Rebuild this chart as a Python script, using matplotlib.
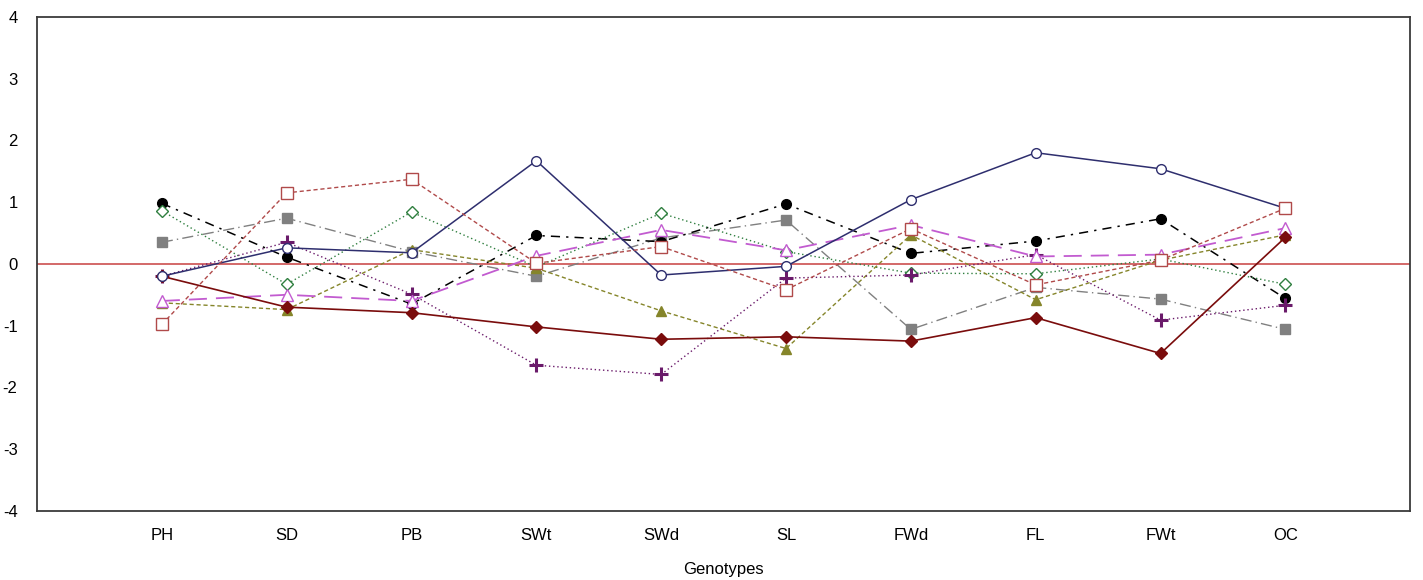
import matplotlib
matplotlib.use("Agg")
import matplotlib.pyplot as plt

plt.rcParams['font.family'] = ['Liberation Sans', 'DejaVu Sans']
plt.rcParams['axes.unicode_minus'] = False

traits = ["PH", "SD", "PB", "SWt", "SWd", "SL", "FWd", "FL", "FWt", "OC"]

g_navy = [-0.20, 0.26, 0.18, 1.67, -0.18, -0.04, 1.04, 1.80, 1.54, 0.90]
g_darkred = [-0.20, -0.70, -0.79, -1.02, -1.22, -1.18, -1.25, -0.87, -1.45, 0.43]
g_black = [0.98, 0.11, -0.65, 0.46, 0.36, 0.97, 0.17, 0.37, 0.73, -0.56]
g_gray = [0.35, 0.74, 0.20, -0.20, 0.42, 0.71, -1.06, -0.38, -0.57, -1.06]
g_pink = [-0.98, 1.15, 1.37, 0.01, 0.28, -0.42, 0.57, -0.34, 0.06, 0.90]
g_green = [0.86, -0.33, 0.84, -0.05, 0.82, 0.20, -0.15, -0.16, 0.08, -0.33]
g_olive = [-0.63, -0.74, 0.23, -0.07, -0.76, -1.37, 0.47, -0.58, 0.06, 0.47]
g_purple = [-0.20, 0.35, -0.49, -1.64, -1.79, -0.23, -0.18, 0.15, -0.91, -0.67]
g_violet = [-0.60, -0.50, -0.60, 0.13, 0.55, 0.22, 0.63, 0.12, 0.15, 0.58]

x = list(range(1, len(traits) + 1))

fig = plt.figure(figsize=(14.23, 5.8), dpi=100)
ax = fig.add_axes([0.026, 0.119, 0.965, 0.852])

ax.axhline(0, color="#c84040", lw=1.1, zorder=1)

ax.plot(x, g_gray, color="#808080", ls=(0, (8, 3, 1, 3)), lw=1.0,
        marker="s", ms=7, mfc="#808080", mec="#808080", zorder=3)
ax.plot(x, g_black, color="black", ls=(0, (6, 4, 1.5, 4)), lw=1.1,
        marker="o", ms=7, mfc="black", mec="black", zorder=3)
ax.plot(x, g_green, color="#2f7f3f", ls=(0, (1, 2)), lw=1.0,
        marker="D", ms=6, mfc="white", mec="#2f7f3f", zorder=3)
ax.plot(x, g_olive, color="#85852a", ls=(0, (3, 2)), lw=1.0,
        marker="^", ms=7, mfc="#85852a", mec="#85852a", zorder=3)
ax.plot(x, g_purple, color="#6a1a6a", ls=(0, (1, 2)), lw=1.0,
        marker="+", ms=10, mew=2.2, mec="#6a1a6a", zorder=4)
ax.plot(x, g_violet, color="#c25bd0", ls=(0, (10, 5)), lw=1.3,
        marker="^", ms=8, mfc="white", mec="#c25bd0", zorder=4)
ax.plot(x, g_darkred, color="#7a0c0c", ls="-", lw=1.2,
        marker="D", ms=6, mfc="#7a0c0c", mec="#7a0c0c", zorder=4)
ax.plot(x, g_navy, color="#2e2e6e", ls="-", lw=1.1,
        marker="o", ms=7, mfc="white", mec="#2e2e6e", zorder=4)
ax.plot(x, g_pink, color="#b04a4a", ls=(0, (3, 2)), lw=1.0,
        marker="s", ms=8, mfc="white", mec="#b04a4a", zorder=5)

ax.set_xlim(0, 11)
ax.set_ylim(-4, 4)
ax.set_xticks(x)
ax.set_xticklabels(traits)
ax.set_yticks(range(-4, 5))
ax.tick_params(axis="both", length=0, labelsize=12)
ax.tick_params(axis="y", pad=14)
ax.tick_params(axis="x", pad=12)
ax.set_xlabel("Genotypes", fontsize=12, labelpad=14)

for s in ax.spines.values():
    s.set_color("#3a3a3a")
    s.set_linewidth(1.3)

fig.savefig("out.png", dpi=100)
